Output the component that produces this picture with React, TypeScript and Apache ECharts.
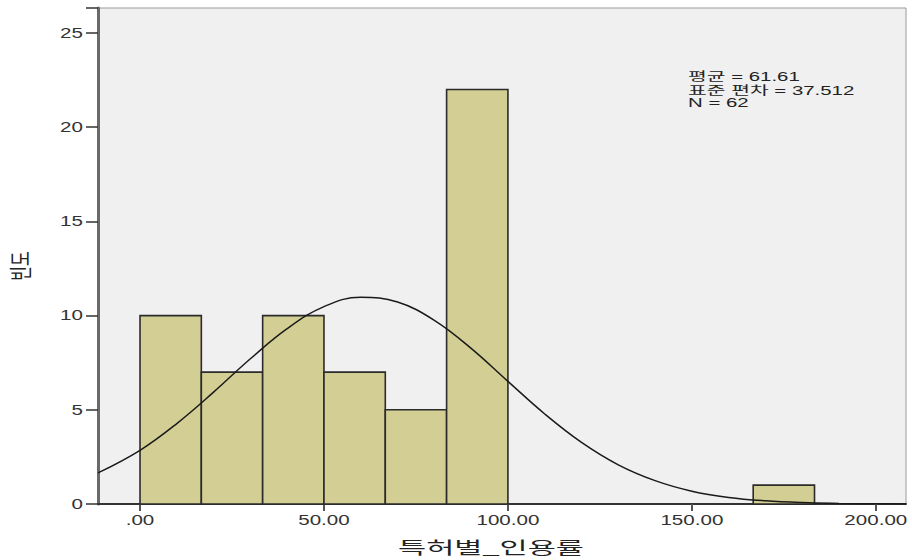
import React, { useEffect, useRef } from "react";
import * as echarts from "echarts";

// Histogram bins (edges) and frequencies
const binEdges = [0, 16.667, 33.333, 50, 66.667, 83.333, 100, 116.667, 133.333, 150, 166.667, 183.333, 200];
const counts = [10, 7, 10, 7, 5, 22, 0, 0, 0, 0, 1, 0];

// Normal curve
const curveX = [-11.42, 0, 10, 20, 30, 40, 50, 60, 70, 80, 90, 100, 110, 120, 130, 140, 150, 160, 170, 180, 190, 200, 208.2];
const curveY = [1.65, 2.85, 4.27, 5.94, 7.71, 9.31, 10.48, 10.98, 10.72, 9.75, 8.26, 6.51, 4.78, 3.27, 2.08, 1.24, 0.68, 0.35, 0.17, 0.075, 0.032, 0.012, 0.005];

// Axis ticks and labels
const xTicks = [0, 50, 100, 150, 200];
const xTickLabels = [".00", "50.00", "100.00", "150.00", "200.00"];
const yTicks = [0, 5, 10, 15, 20, 25];
const yTickLabels = ["0", "5", "10", "15", "20", "25"];

const statsLines = ["평균 = 61.61", "표준 편차 = 37.512", "N = 62"];
const xTitle = "특허별_인용률";
const yTitle = "빈도";

const LATIN = "'Liberation Sans', Arial, 'Noto Sans CJK KR', sans-serif";
const KR = "'Noto Sans CJK KR', 'Liberation Sans', sans-serif";

export default function App() {
  const ref = useRef<HTMLDivElement>(null);

  useEffect(() => {
    if (!ref.current) return;
    const chart = echarts.init(ref.current, undefined, { renderer: "svg" });

    const barData = counts
      .map((c, i) => [binEdges[i], binEdges[i + 1], c])
      .filter((d) => d[2] > 0);

    chart.setOption({
      animation: false,
      grid: {
        left: 98,
        top: 8,
        right: 6,
        bottom: 56,
        show: true,
        backgroundColor: "#F0F0F0",
        borderColor: "#9a9a9a",
        borderWidth: 1,
      },
      xAxis: {
        type: "value",
        min: -11.42,
        max: 208.2,
        axisLine: { show: true, onZero: false, lineStyle: { color: "#333", width: 2 } },
        axisTick: { show: true, customValues: xTicks, length: 7, lineStyle: { color: "#555", width: 2 } },
        axisLabel: { show: false },
        splitLine: { show: false },
      },
      yAxis: {
        type: "value",
        min: 0,
        max: 26.33,
        interval: 5,
        axisLine: { show: true, onZero: false, lineStyle: { color: "#6a6a6a", width: 3 } },
        axisTick: { show: true, length: 12, lineStyle: { color: "#333", width: 1.5 } },
        axisLabel: { show: false },
        splitLine: { show: false },
      },
      series: [
        {
          type: "custom",
          data: barData,
          encode: { x: [0, 1], y: 2 },
          renderItem: (params: any, api: any) => {
            const p0 = api.coord([api.value(0), api.value(2)]);
            const p1 = api.coord([api.value(1), 0]);
            return {
              type: "rect",
              shape: { x: p0[0], y: p0[1], width: p1[0] - p0[0], height: p1[1] - p0[1] },
              style: { fill: "#D3CE93", stroke: "#2b2b2b", lineWidth: 1.6 },
            };
          },
          z: 2,
        },
        {
          type: "line",
          data: curveX.map((x, i) => [x, curveY[i]]),
          smooth: 0.4,
          showSymbol: false,
          lineStyle: { color: "#1a1a1a", width: 1.5 },
          z: 3,
        },
      ],
    });

    const graphics: any[] = [];
    xTicks.forEach((v, i) => {
      const p = chart.convertToPixel({ gridIndex: 0 }, [v, 0]) as number[];
      graphics.push({
        type: "text",
        x: p[0],
        y: 520,
        scaleX: 1.47,
        style: {
          text: xTickLabels[i],
          x: 0,
          y: 0,
          font: `14px ${LATIN}`,
          fill: "#333",
          align: "center",
          verticalAlign: "middle",
          textAlign: "center",
          textVerticalAlign: "middle",
        },
      });
    });
    yTicks.forEach((v, i) => {
      const p = chart.convertToPixel({ gridIndex: 0 }, [0, v]) as number[];
      graphics.push({
        type: "text",
        x: 83,
        y: p[1],
        scaleX: 1.47,
        style: {
          text: yTickLabels[i],
          x: 0,
          y: 0,
          font: `14px ${LATIN}`,
          fill: "#333",
          align: "right",
          verticalAlign: "middle",
          textAlign: "right",
          textVerticalAlign: "middle",
        },
      });
    });
    const statY = [77, 91, 103];
    statsLines.forEach((t, i) => {
      graphics.push({
        type: "text",
        x: 688,
        y: statY[i],
        scaleX: 1.7,
        style: {
          text: t,
          x: 0,
          y: 0,
          font: `12px ${LATIN}`,
          fill: "#222",
          align: "left",
          verticalAlign: "middle",
          textAlign: "left",
          textVerticalAlign: "middle",
        },
      });
    });
    graphics.push({
      type: "text",
      x: 491,
      y: 546,
      scaleX: 1.8,
      style: {
        text: xTitle,
        x: 0,
        y: 0,
        font: `17px ${KR}`,
        fill: "#222",
        align: "center",
        verticalAlign: "middle",
        textAlign: "center",
        textVerticalAlign: "middle",
      },
    });
    graphics.push({
      type: "text",
      x: 19,
      y: 266,
      rotation: Math.PI / 2,
      scaleY: 1.4,
      style: {
        text: yTitle,
        x: 0,
        y: 0,
        font: `16px ${KR}`,
        fill: "#222",
        align: "center",
        verticalAlign: "middle",
        textAlign: "center",
        textVerticalAlign: "middle",
      },
    });

    chart.setOption({ graphic: graphics });

    return () => chart.dispose();
  }, []);

  return (
    <div
      ref={ref}
      style={{ position: "fixed", left: 0, top: 0, width: 912, height: 560, background: "#fff" }}
    />
  );
}
